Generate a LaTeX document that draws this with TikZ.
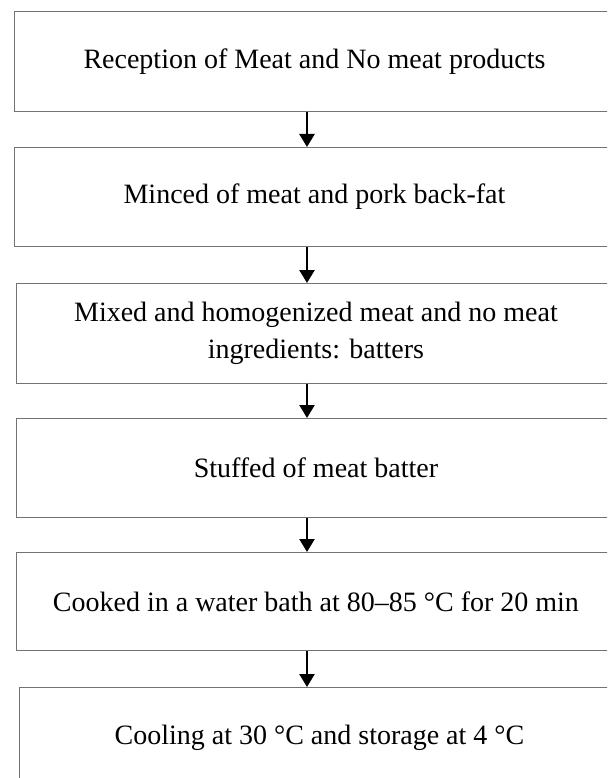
\documentclass[tikz,border=0pt]{standalone}
\usepackage{fontspec}
\setmainfont{Liberation Serif}
\usetikzlibrary{arrows.meta}

\tikzset{
  stepbox/.style={draw=black!55, line width=0.9pt, minimum width=600pt,
    minimum height=99pt, inner sep=0pt, align=center, anchor=north west,
    font=\fontsize{28}{37.5}\selectfont},
  flowarrow/.style={-{Triangle[width=15pt,length=13pt]}, line width=2.4pt}
}

\begin{document}
\begin{tikzpicture}[x=1pt,y=-1pt]
            \useasboundingbox (0,0) rectangle (607,778);
            \clip (0,0) rectangle (607,778);
            \coordinate (axis) at (307,0);

            % Process steps
            \node[stepbox, minimum height=100pt] (reception) at (14,11) {Reception of Meat and No meat products};
            \node[stepbox] (minced) at (14,147) {Minced of meat and pork back-fat};
            \node[stepbox, minimum height=100pt] (mixed) at (15.5,283) {Mixed and homogenized meat and no meat\\ingredients: batters};
            \node[stepbox] (stuffed) at (15.5,418) {Stuffed of meat batter};
            \node[stepbox, minimum height=98pt] (cooked) at (15.5,552) {Cooked in a water bath at 80–85 °C for 20 min};
            \node[stepbox, minimum height=100pt] (cooling) at (19,687) {Cooling at 30 °C and storage at 4 °C};

            % Arrows
            \draw[flowarrow] (reception.south -| axis) -- (minced.north -| axis);
            \draw[flowarrow] (minced.south -| axis) -- (mixed.north -| axis);
            \draw[flowarrow] (mixed.south -| axis) -- (stuffed.north -| axis);
            \draw[flowarrow] (stuffed.south -| axis) -- (cooked.north -| axis);
            \draw[flowarrow] (cooked.south -| axis) -- (cooling.north -| axis);
\end{tikzpicture}
\end{document}
